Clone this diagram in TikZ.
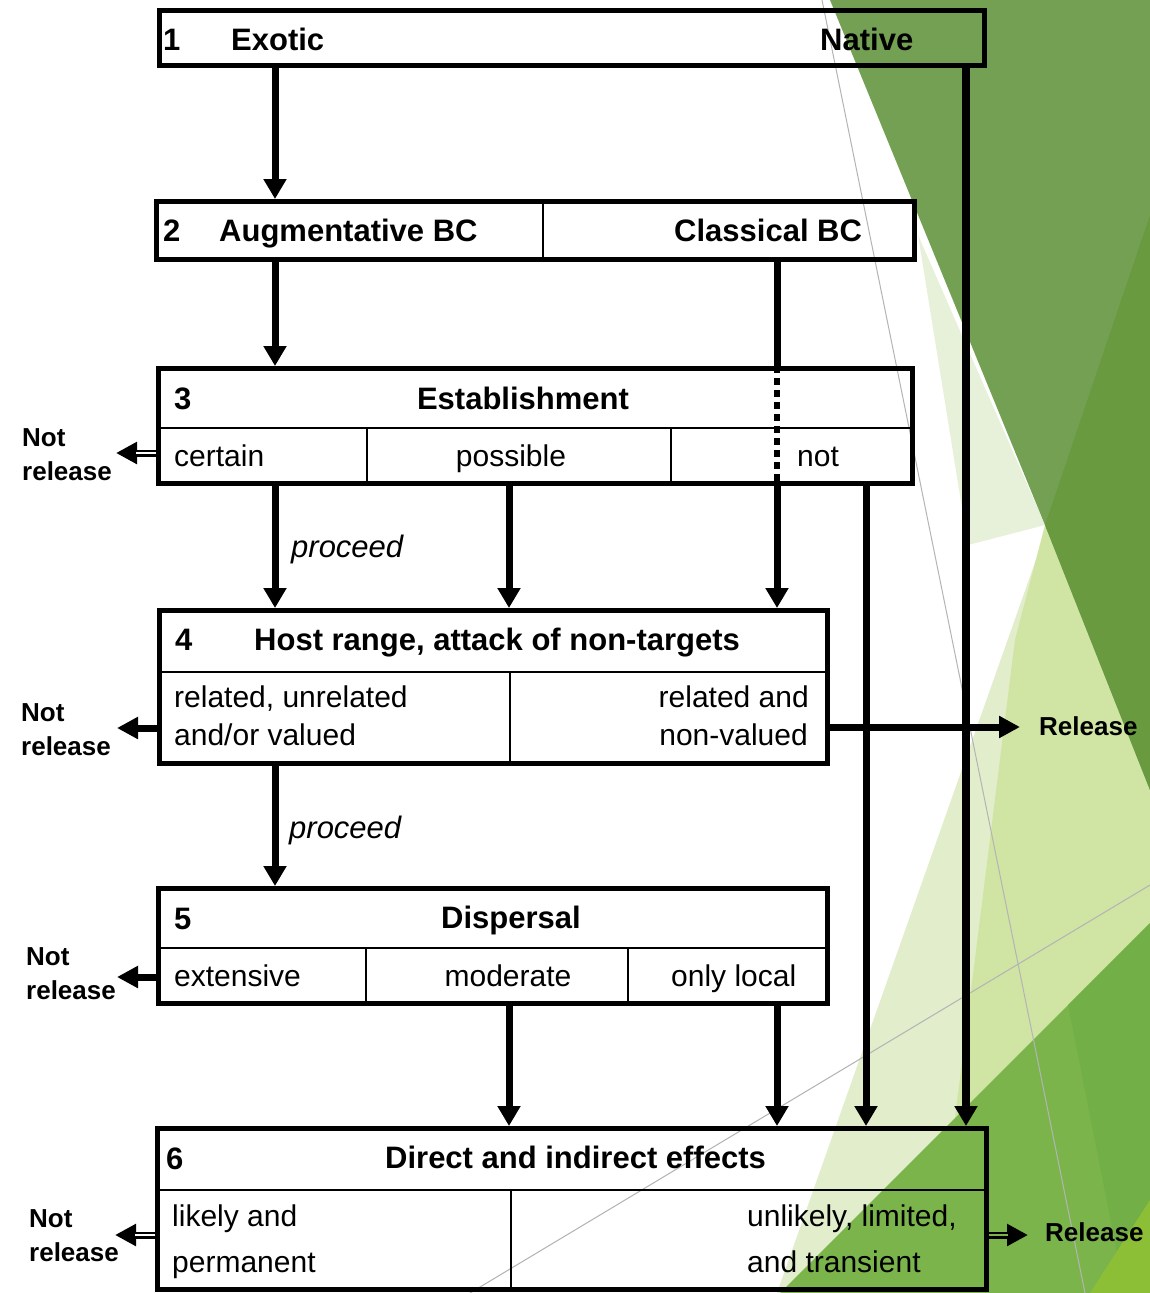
\documentclass[tikz,border=0pt]{standalone}
\usepackage{fontspec}
\setmainfont{Liberation Sans}
\usetikzlibrary{arrows.meta,calc}
\newcommand{\myfs}[1]{\fontsize{#1}{#1}\selectfont}
\definecolor{gDark}{HTML}{74A054}
\definecolor{gDarker}{HTML}{6A9A3F}
\definecolor{gStrip}{HTML}{E7F0D8}
\definecolor{gVLight}{HTML}{E2EDCB}
\definecolor{gLight}{HTML}{D0E4A4}
\definecolor{gMid}{HTML}{7AB44B}
\definecolor{gMidB}{HTML}{73AF47}
\definecolor{gYel}{HTML}{8CBF36}
\definecolor{gLine}{HTML}{B4B4B4}
\begin{document}
\begin{tikzpicture}[x=1pt,y=-1pt,
  box/.style={draw=black, line width=5pt, inner sep=0pt, rectangle},
  div/.style={draw=black, line width=1.5pt},
  hd/.style={anchor=base west, inner sep=0pt, font=\myfs{31}\bfseries},
  hdc/.style={anchor=base, inner sep=0pt, font=\myfs{31}\bfseries},
  txt/.style={anchor=base west, inner sep=0pt, font=\myfs{30}},
  txtc/.style={anchor=base, inner sep=0pt, font=\myfs{30}},
  txte/.style={anchor=base east, inner sep=0pt, font=\myfs{30}},
  note/.style={anchor=base west, inner sep=0pt, font=\myfs{31}\itshape},
  lbl/.style={anchor=west, inner sep=0pt, align=left, font={\fontsize{26}{34}\selectfont\bfseries}},
  rlbl/.style={anchor=west, inner sep=0pt, font=\myfs{26}\bfseries},
  conn/.style={draw=black, line width=7pt, -{Triangle[width=22pt,length=20pt]}},
  connw/.style={draw=black, line width=8pt, -{Triangle[width=22pt,length=20pt]}},
  bar/.style={draw=black, line width=7pt},
  dotbar/.style={draw=black, line width=6pt, dash pattern=on 7pt off 5pt},
  sconn/.style={draw=black, line width=7pt, -{Triangle[width=21pt,length=21pt]}},
  gapline/.style={line width=2.4pt}
]
\useasboundingbox (0,0) rectangle (1150,1293);
\fill[white] (0,0) rectangle (1150,1293);
% ---- background facets
\fill[gVLight] (1050,520) -- (1150,880) -- (1150,1293) -- (777,1293) -- cycle;
\fill[gLight] (1045,525) -- (1150,790) -- (1150,923) -- (955,1118) -- (1015,640) -- cycle;
\fill[gStrip] (918,235) -- (1045,525) -- (968,545) -- cycle;
\fill[gDark] (830,0) -- (1150,0) -- (1150,790) -- (1045,525) -- cycle;
\fill[gDarker] (1150,215) -- (1045,525) -- (1150,790) -- cycle;
\fill[gMid] (1150,923) -- (1150,1293) -- (780,1293) -- cycle;
\fill[gMidB] (1068,1005) -- (1150,923) -- (1150,1293) -- (1125,1293) -- cycle;
\fill[gYel] (1150,1200) -- (1150,1293) -- (1090,1293) -- cycle;
\draw[gLine, line width=1pt] (822,0) -- (1085,1293);
\draw[gLine, line width=1pt] (470,1293) -- (1150,885);

% ---- boxes
\node[box, minimum width=825pt, minimum height=55pt] (b1) at (572,38) {};
\node[box, minimum width=758pt, minimum height=58pt] (b2) at (535.5,230.5) {};
\node[box, minimum width=754pt, minimum height=115pt] (b3) at (535.5,426) {};
\node[box, minimum width=668pt, minimum height=153pt] (b4) at (493.5,687) {};
\node[box, minimum width=669pt, minimum height=115pt] (b5) at (493,946) {};
\node[box, minimum width=829pt, minimum height=161pt] (b6) at (572,1209) {};

% ---- dividers
\draw[div] (543,201.5) -- (543,259.5);
\draw[div] (158.5,428) -- (912.5,428);
\draw[div] (367,428) -- (367,483.5);
\draw[div] (671,428) -- (671,483.5);
\draw[div] (159.5,672) -- (827.5,672);
\draw[div] (510,672) -- (510,763.5);
\draw[div] (158.5,948) -- (827.5,948);
\draw[div] (366,948) -- (366,1003.5);
\draw[div] (628,948) -- (628,1003.5);
\draw[div] (157.5,1190) -- (986.5,1190);
\draw[div] (511,1190) -- (511,1289.5);

% ---- texts
\node[hd] (n1) at (163,50) {1};
\node[hd] (exo) at (231,50) {Exotic};
\node[hd] (nat) at (820,50) {Native};
\node[hd] (n2) at (163,241) {2};
\node[hd] (aug) at (219,241) {Augmentative BC};
\node[hd] (cla) at (674,241) {Classical BC};
\node[hd] (n3) at (174,409) {3};
\node[hdc] (est) at (523,409) {Establishment};
\node[txt] (cer) at (174,466) {certain};
\node[txtc] (pos) at (511,466) {possible};
\node[txt] (nt) at (797,466) {not};
\node[hd] (n4) at (175,650) {4};
\node[hd] (hos) at (254,650) {Host range, attack of non-targets};
\node[txt] (rel1) at (174,707) {related, unrelated};
\node[txt] (rel2) at (174,745) {and/or valued};
\node[txte] (rel3) at (809,707) {related and};
\node[txte] (rel4) at (808,745) {non-valued};
\node[hd] (n5) at (174,929) {5};
\node[hdc] (dis) at (511,928) {Dispersal};
\node[txt] (ext) at (174,986) {extensive};
\node[txtc] (mod) at (508,986) {moderate};
\node[txt] (loc) at (671,986) {only local};
\node[hd] (n6) at (166,1169) {6};
\node[hd] (dir) at (385,1168) {Direct and indirect effects};
\node[txt] (lik1) at (172,1226) {likely and};
\node[txt] (lik2) at (172,1272) {permanent};
\node[txt] (unl1) at (747,1226) {unlikely, limited,};
\node[txt] (unl2) at (747,1272) {and transient};
\node[note] (pr1) at (291,557) {proceed};
\node[note] (pr2) at (289,838) {proceed};

\node[lbl] (nr3) at (22,455) {Not\\release};
\node[lbl] (nr4) at (21,730) {Not\\release};
\node[lbl] (nr5) at (26,974) {Not\\release};
\node[lbl] (nr6) at (29,1236) {Not\\release};
\node[rlbl] (re4) at (1039,726) {Release};
\node[rlbl] (re6) at (1045,1232) {Release};

% ---- connectors
\coordinate (cA) at (275,0);
\coordinate (cB) at (509,0);
\coordinate (cC) at (777,0);
\coordinate (cD) at (866,0);
\coordinate (cE) at (966,0);

\draw[conn] (b1.south -| cA) -- (b2.north -| cA);
\draw[conn] (b2.south -| cA) -- (b3.north -| cA);
\draw[bar] (b2.south -| cC) -- (b3.north -| cC);
\draw[dotbar] (b3.north -| cC) -- (b3.south -| cC);
\draw[conn] (b3.south -| cA) -- (b4.north -| cA);
\draw[conn] (b3.south -| cB) -- (b4.north -| cB);
\draw[conn] (b3.south -| cC) -- (b4.north -| cC);
\draw[conn] (b4.south -| cA) -- (b5.north -| cA);
\draw[conn] (b5.south -| cB) -- (b6.north -| cB);
\draw[conn] (b5.south -| cC) -- (b6.north -| cC);
\draw[conn] (b3.south -| cD) -- (b6.north -| cD);
\draw[connw] (b1.south -| cE) -- (b6.north -| cE);

% side arrows
\coordinate (t3) at (116,453);
\coordinate (t4) at (117,728);
\coordinate (t5) at (117,977);
\coordinate (t6) at (115,1235);
\coordinate (r4) at (1020,727);
\coordinate (r6) at (1028,1235);

\draw[sconn] (b3.west |- t3) -- (t3);
\draw[gapline, white] (b3.west |- t3) -- ([xshift=20pt]t3);
\draw[sconn] (b4.west |- t4) -- (t4);
\draw[sconn] (b5.west |- t5) -- (t5);
\draw[sconn] (b6.west |- t6) -- (t6);
\draw[gapline, white] (b6.west |- t6) -- ([xshift=20pt]t6);
\draw[sconn] (b4.east |- r4) -- (r4);
\draw[sconn] (b6.east |- r6) -- (r6);
\draw[gapline, gMid] (b6.east |- r6) -- ([xshift=-20pt]r6);
\end{tikzpicture}
\end{document}
